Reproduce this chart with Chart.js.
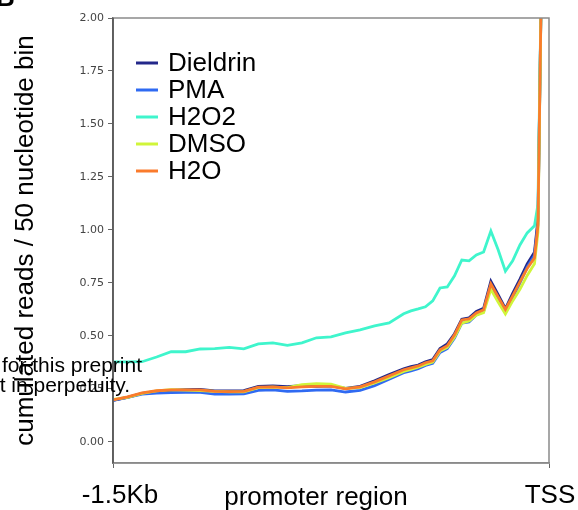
<!DOCTYPE html>
<html>
<head>
<meta charset="utf-8">
<script src="https://cdn.jsdelivr.net/npm/chart.js@4/dist/chart.umd.min.js"></script>
<style>
  html, body { margin: 0; padding: 0; background: #fff; }
  canvas { display: block; }
</style>
</head>
<body>
<canvas id="promoterChart" width="578" height="510"></canvas>
<script>
// position relative to TSS (bp)
var positions = [-1500, -1450, -1400, -1350, -1300, -1250, -1200, -1150, -1100, -1050,
  -1000, -950, -900, -850, -800, -750, -700, -650, -600, -550,
  -500, -475, -450, -425, -400, -375, -350, -325, -300, -275,
  -250, -225, -200, -175, -150, -125, -100, -75, -50, -38, -25, 0];

var seriesNames = ['Dieldrin', 'PMA', 'H2O2', 'DMSO', 'H2O'];

var dieldrin = [0.195, 0.210, 0.228, 0.238, 0.243, 0.246, 0.247, 0.240, 0.240, 0.242,
  0.262, 0.264, 0.260, 0.265, 0.262, 0.264, 0.252, 0.262, 0.288, 0.318,
  0.345, 0.355, 0.362, 0.378, 0.388, 0.440, 0.462, 0.510, 0.578, 0.585,
  0.615, 0.630, 0.758, 0.695, 0.628, 0.700, 0.768, 0.840, 0.895, 1.050, 2.3, 6.0];

var pma = [0.196, 0.210, 0.225, 0.230, 0.232, 0.233, 0.233, 0.225, 0.225, 0.226,
  0.243, 0.245, 0.238, 0.240, 0.244, 0.245, 0.235, 0.243, 0.265, 0.295,
  0.326, 0.335, 0.345, 0.360, 0.370, 0.422, 0.440, 0.490, 0.560, 0.566,
  0.598, 0.615, 0.740, 0.672, 0.610, 0.680, 0.750, 0.825, 0.880, 1.030, 2.3, 6.0];

var h2o2 = [0.377, 0.377, 0.378, 0.400, 0.425, 0.425, 0.438, 0.440, 0.446, 0.439,
  0.462, 0.467, 0.455, 0.467, 0.491, 0.495, 0.514, 0.528, 0.547, 0.561,
  0.604, 0.618, 0.627, 0.637, 0.665, 0.726, 0.731, 0.783, 0.858, 0.854,
  0.882, 0.896, 0.995, 0.906, 0.805, 0.854, 0.929, 0.986, 1.019, 1.120, 2.3, 6.0];

var dmso = [0.200, 0.210, 0.228, 0.240, 0.246, 0.244, 0.242, 0.238, 0.236, 0.236,
  0.256, 0.258, 0.256, 0.270, 0.274, 0.272, 0.252, 0.256, 0.278, 0.303,
  0.332, 0.342, 0.352, 0.365, 0.376, 0.428, 0.445, 0.495, 0.560, 0.570,
  0.598, 0.610, 0.720, 0.660, 0.603, 0.665, 0.720, 0.785, 0.840, 0.990, 2.3, 6.0];

var h2o = [0.198, 0.212, 0.231, 0.241, 0.245, 0.245, 0.245, 0.238, 0.237, 0.238,
  0.258, 0.259, 0.255, 0.259, 0.262, 0.262, 0.250, 0.259, 0.283, 0.311,
  0.340, 0.349, 0.358, 0.373, 0.382, 0.434, 0.453, 0.505, 0.575, 0.580,
  0.608, 0.623, 0.745, 0.684, 0.625, 0.689, 0.755, 0.818, 0.868, 1.020, 2.3, 6.0];

var xTickValues = [-1500, 0];
var xTickLabels = ['-1.5Kb', 'TSS'];
var yTickValues = [0, 0.25, 0.5, 0.75, 1, 1.25, 1.5, 1.75, 2];

var colors = ['#23288a', '#2f6af2', '#3ff5cc', '#d0f53a', '#fa7b2c'];
var allSeries = [dieldrin, pma, h2o2, dmso, h2o];
var bigFont = 'Liberation Sans, Arial, sans-serif';

var datasets = allSeries.map(function (vals, i) {
  return {
    label: seriesNames[i],
    data: vals.map(function (v, j) { return { x: positions[j], y: v }; }),
    borderColor: colors[i],
    borderWidth: 2.8,
    pointRadius: 0,
    tension: 0,
    fill: false,
    order: allSeries.length - i   // H2O drawn on top
  };
});

// frame, inline legend, x labels/title and overlapping page text
var extras = {
  id: 'extras',
  afterDatasetsDraw: function (chart) {
    var ctx = chart.ctx, a = chart.chartArea;
    ctx.save();
    ctx.strokeStyle = '#8a8a8a';
    ctx.lineWidth = 1.5;
    ctx.strokeRect(a.left, a.top, a.right - a.left, a.bottom - a.top);
    ctx.strokeStyle = '#555';
    ctx.beginPath();
    ctx.moveTo(a.left, a.top);
    ctx.lineTo(a.left, a.bottom);
    ctx.stroke();

    ctx.font = '26px ' + bigFont;
    ctx.textBaseline = 'middle';
    ctx.textAlign = 'left';
    chart.data.datasets.forEach(function (ds, i) {
      var y = 63 + i * 27;
      ctx.strokeStyle = ds.borderColor;
      ctx.lineWidth = 3;
      ctx.beginPath();
      ctx.moveTo(136, y);
      ctx.lineTo(158, y);
      ctx.stroke();
      ctx.fillStyle = '#000';
      ctx.fillText(ds.label, 168, y + 1);
    });
    ctx.restore();
  },
  afterDraw: function (chart) {
    var ctx = chart.ctx, xs = chart.scales.x;
    ctx.save();
    ctx.fillStyle = '#000';
    ctx.font = '26px ' + bigFont;
    ctx.textAlign = 'center';
    ctx.textBaseline = 'alphabetic';
    ctx.fillText(xTickLabels[0], xs.getPixelForValue(xTickValues[0]) + 7, 503);
    ctx.fillText(xTickLabels[1], xs.getPixelForValue(xTickValues[1]) + 1, 503);
    ctx.fillText('promoter region', 316, 505);

    ctx.font = '21px ' + bigFont;
    ctx.textAlign = 'right';
    ctx.fillText('The copyright holder for this preprint', 142, 372);
    ctx.fillText('display the preprint in perpetuity.', 130, 392);
    ctx.font = 'bold 26px ' + bigFont;
    ctx.textAlign = 'left';
    ctx.fillText('B', -4, 6);
    ctx.restore();
  }
};

var ctx = document.getElementById('promoterChart').getContext('2d');
var promoterChart = new Chart(ctx, {
  type: 'line',
  data: { datasets: datasets },
  options: {
    responsive: false,
    animation: false,
    layout: { padding: { top: 18, right: 29, left: 0, bottom: 0 } },
    plugins: { legend: { display: false }, tooltip: { enabled: false } },
    scales: {
      x: {
        type: 'linear',
        min: -1500,
        max: 0,
        afterBuildTicks: function (s) { s.ticks = xTickValues.map(function (v) { return { value: v }; }); },
        afterFit: function (s) { s.height = 47; },
        ticks: { display: false },
        grid: { drawOnChartArea: false, drawTicks: true, tickLength: 5, color: '#666' },
        border: { color: '#8a8a8a', width: 1.5 }
      },
      y: {
        min: -0.1,
        max: 2.0,
        afterBuildTicks: function (s) { s.ticks = yTickValues.map(function (v) { return { value: v }; }); },
        afterFit: function (s) { s.width = 113; },
        ticks: {
          callback: function (v) { return v.toFixed(2); },
          font: { family: 'DejaVu Sans', size: 11 },
          color: '#444',
          padding: 4
        },
        grid: { drawOnChartArea: false, tickLength: 5, color: '#666' },
        border: { color: '#555', width: 1.5 },
        title: {
          display: true,
          text: 'cumulated reads / 50 nucleotide bin',
          font: { family: bigFont, size: 26 },
          color: '#000',
          padding: { top: 10, bottom: 0 }
        }
      }
    }
  },
  plugins: [extras]
});
</script>
</body>
</html>
